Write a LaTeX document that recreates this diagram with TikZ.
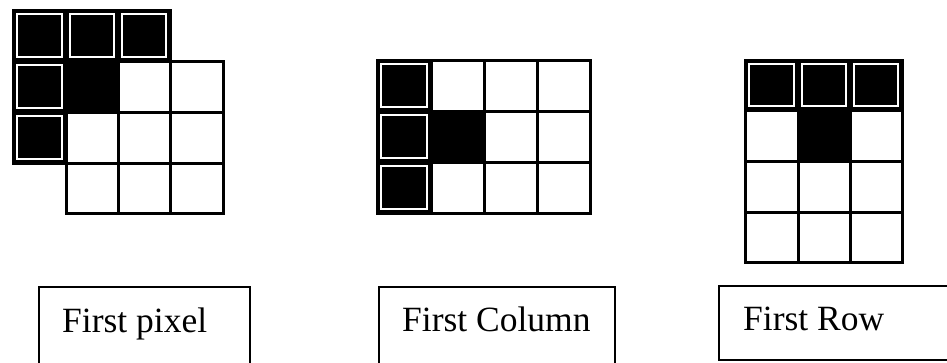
\documentclass[tikz,border=0pt]{standalone}
\usepackage{fontspec}
\setmainfont{Liberation Serif}
\begin{document}
\begin{tikzpicture}[x=1pt,y=-1pt,
  gridline/.style={draw=black,line width=3pt,line cap=square},
  blackcell/.style={fill=black},
  innerframe/.style={draw=white,line width=1.6pt},
  labelbox/.style={draw=black,line width=1.8pt},
  labeltext/.style={font=\fontsize{35.5}{40}\selectfont,anchor=base west,inner sep=0pt}]
\useasboundingbox (0,0) rectangle (947,362);
\clip (0,0) rectangle (947,362);
% ---- Grid 1: first pixel ----
\foreach \a/\b/\c/\d in {13/10/66/61, 66/10/118/61, 118/10/170/61,
  13/61/66/112, 13/112/66/163}{
  \fill[blackcell] (\a,\b) rectangle (\c,\d);
  \draw[innerframe] (\a+3.8,\b+3.8) rectangle (\c-3.8,\d-3.8);
}
\fill[blackcell] (66,61) rectangle (118,112);
\foreach \a/\b/\c/\d in {13/10/66/61, 66/10/118/61, 118/10/170/61,
  13/61/66/112, 66/61/118/112, 118/61/170/112, 170/61/223/112,
  13/112/66/163, 66/112/118/163, 118/112/170/163, 170/112/223/163,
  66/163/118/213, 118/163/170/213, 170/163/223/213}{
  \draw[gridline] (\a,\b) rectangle (\c,\d);
}
% ---- Grid 2: first column ----
\foreach \a/\b/\c/\d in {377/60/431/111, 377/111/431/162, 377/162/431/213}{
  \fill[blackcell] (\a,\b) rectangle (\c,\d);
  \draw[innerframe] (\a+3.8,\b+3.8) rectangle (\c-3.8,\d-3.8);
}
\fill[blackcell] (431,111) rectangle (484,162);
\foreach \xa/\xb in {377/431, 431/484, 484/537, 537/590}{
  \foreach \ya/\yb in {60/111, 111/162, 162/213}{
    \draw[gridline] (\xa,\ya) rectangle (\xb,\yb);
  }
}
% ---- Grid 3: first row ----
\foreach \a/\b/\c/\d in {745/60/798/110, 798/60/850/110, 850/60/902/110}{
  \fill[blackcell] (\a,\b) rectangle (\c,\d);
  \draw[innerframe] (\a+3.8,\b+3.8) rectangle (\c-3.8,\d-3.8);
}
\fill[blackcell] (798,110) rectangle (850,161);
\foreach \xa/\xb in {745/798, 798/850, 850/902}{
  \foreach \ya/\yb in {60/110, 110/161, 161/212, 212/262}{
    \draw[gridline] (\xa,\ya) rectangle (\xb,\yb);
  }
}
% ---- Labels ----
\coordinate (b1a) at (39,287);  \coordinate (b1b) at (250,372);
\coordinate (b2a) at (379,287); \coordinate (b2b) at (615,372);
\coordinate (b3a) at (719,286); \coordinate (b3b) at (960,360);
\draw[labelbox] (b1a) rectangle (b1b);
\draw[labelbox] (b2a) rectangle (b2b);
\draw[labelbox] (b3a) rectangle (b3b);
\node[labeltext] (t1) at (62,332) {First pixel};
\node[labeltext] (t2) at (402,331) {First Column};
\node[labeltext] (t3) at (743,330) {First Row};
\end{tikzpicture}
\end{document}
